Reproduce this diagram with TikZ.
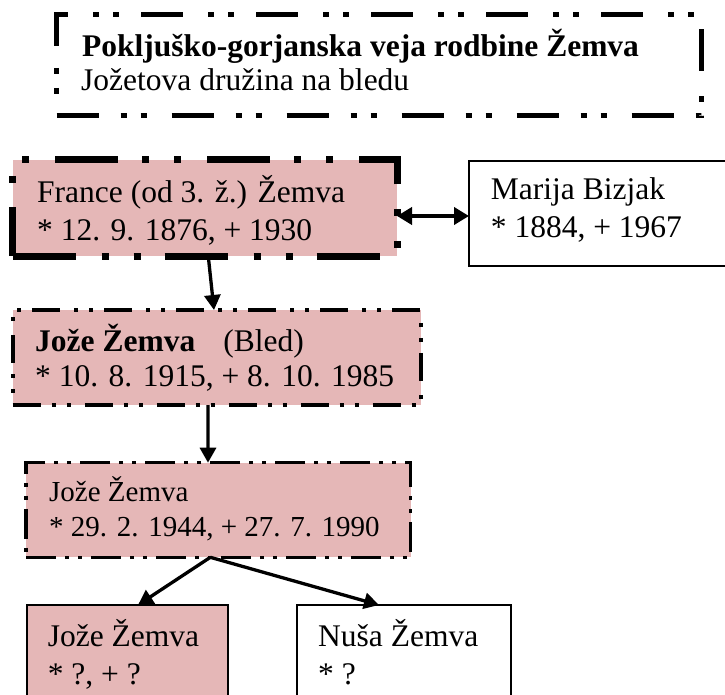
\documentclass[tikz,border=0pt]{standalone}
\usepackage{fontspec}
\setmainfont{Liberation Serif}
\usetikzlibrary{arrows.meta}
\definecolor{rosa}{HTML}{E5B7B7}
\begin{document}
\begin{tikzpicture}[x=1pt,y=-1pt,
  box/.style={rectangle, inner sep=0pt, outer sep=0pt, anchor=north west, line join=miter},
  pinkbox/.style={box, fill=rosa},
  txt/.style={inner sep=0pt, anchor=base west, font=\fontsize{31.5}{37}\selectfont},
  txts/.style={inner sep=0pt, anchor=base west, font=\fontsize{29}{34}\selectfont},
  arr/.style={line width=3.3pt, -{Triangle[length=15pt,width=16pt]}},
  dbl/.style={line width=4pt, {Triangle[length=15pt,width=17pt]}-{Triangle[length=15pt,width=17pt]}},
  solidline/.style={draw, line width=2pt},
  dashA/.style={draw, line width=5pt, dash pattern=on 42pt off 22pt on 6pt off 14pt on 6pt off 25pt},
  dashB/.style={draw, line width=7pt, dash pattern=on 63pt off 26pt on 7pt off 25pt on 7pt off 24pt},
  dashC/.style={draw, line width=4pt, dash pattern=on 28pt off 11pt on 4pt off 11pt on 4pt off 14pt},
  dashD/.style={draw, line width=3.5pt, dash pattern=on 30pt off 9pt on 4pt off 9pt on 4pt off 9pt}
]
\useasboundingbox (0,0) rectangle (725,695);
\clip (0,0) rectangle (725,695);

% title
\node[box, dashA, minimum width=645pt, minimum height=101pt] (title) at (56.7,15) {};
\node[txt] (titleA) at (82,56.7) {\textbf{Pokljuško-gorjanska veja rodbine Žemva}};
\node[txt] (titleB) at (81,90.7) {Jožetova družina na bledu};

% France
\node[pinkbox, dashB, minimum width=384.5pt, minimum height=96pt] (france) at (12.5,160) {};
\node[txt] (franceA) at (37,203) {France (od 3. ž.) Žemva};
\node[txt] (franceB) at (37,240) {* 12. 9. 1876, + 1930};

% Marija
\node[box, solidline, minimum width=280pt, minimum height=105.3pt] (marija) at (469,160.7) {};
\node[txt] (marijaA) at (490.7,200) {Marija Bizjak};
\node[txt] (marijaB) at (490.7,237) {* 1884, + 1967};

% Joze (Bled)
\node[pinkbox, dashC, minimum width=408pt, minimum height=95pt] (joze) at (12.7,310) {};
\node[txt] (jozeA) at (35,351) {\textbf{Jože Žemva}\hspace{28pt}(Bled)};
\node[txt] (jozeB) at (35,386.7) {* 10. 8. 1915, + 8. 10. 1985};

% Joze 1944
\node[pinkbox, dashD, minimum width=384.7pt, minimum height=94.6pt] (jozeb) at (26,462.7) {};
\node[txts] (jozebA) at (49,501.7) {Jože Žemva};
\node[txts] (jozebB) at (49,536.7) {* 29. 2. 1944, + 27. 7. 1990};

% children
\node[pinkbox, solidline, minimum width=201pt, minimum height=105pt] (jozec) at (27,605) {};
\node[txt] (jozecA) at (47.6,646.8) {Jože Žemva};
\node[txt] (jozecB) at (47.6,684.5) {* ?, + ?};

\node[box, solidline, minimum width=214pt, minimum height=105pt] (nusa) at (297,605) {};
\node[txt] (nusaA) at (318,646.8) {Nuša Žemva};
\node[txt] (nusaB) at (318,684.5) {* ?};

% connectors
\draw[dbl] ([yshift=-8pt]france.east) -- ([yshift=-8pt]france.east -| marija.west);
\draw[arr] ([xshift=3.5pt]france.south) -- ([xshift=-2.7pt]joze.north);
\draw[arr] ([xshift=-8.7pt]joze.south) -- ([xshift=-10.35pt]jozeb.north);
\draw[arr] ([xshift=-8pt]jozeb.south) -- ([xshift=10.5pt]jozec.north);
\draw[arr] ([xshift=-8pt]jozeb.south) -- ([xshift=-25pt]nusa.north);
\end{tikzpicture}
\end{document}
